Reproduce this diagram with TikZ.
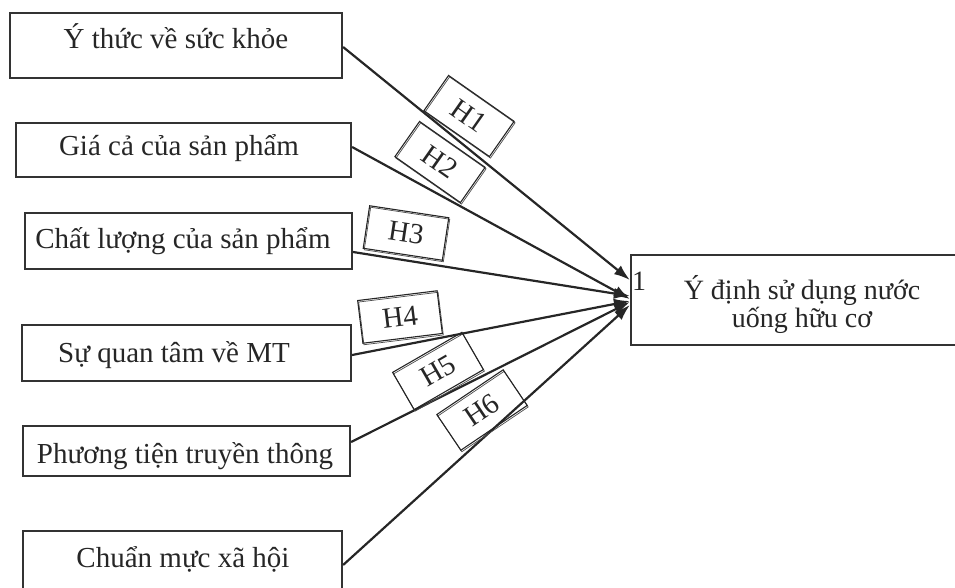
\documentclass[tikz,border=0pt]{standalone}
\usepackage{fontspec}
\setmainfont{Liberation Serif}
\usetikzlibrary{arrows.meta}
\begin{document}
\begin{tikzpicture}[x=1pt,y=-1pt,
  boxst/.style={draw=black!80, line width=2.2pt, inner sep=0pt},
  txt/.style={font=\fontsize{29}{31}\selectfont, text=black!85, inner sep=0pt, anchor=base},
  ttxt/.style={font=\fontsize{28}{30}\selectfont, text=black!85, inner sep=0pt, anchor=base},
  hlab/.style={draw=black!85, line width=1.1pt, minimum width=80pt, minimum height=43pt, inner sep=0pt,
    font=\fontsize{29}{31}\selectfont, text=black!85,
    preaction={draw=black!70, line width=0.7pt, transform canvas={xshift=1pt,yshift=-1.5pt}}},
  arr/.style={line width=2.2pt, draw=black!85, -{Latex[length=16pt,width=11pt]}}
]
\useasboundingbox (0,0) rectangle (955,587);

% left boxes
\node[boxst, minimum width=332pt, minimum height=65pt] (b1) at (176,45.5) {};
\node[boxst, minimum width=335pt, minimum height=54pt] (b2) at (183.5,150) {};
\node[boxst, minimum width=327pt, minimum height=56pt] (b3) at (188.5,241) {};
\node[boxst, minimum width=329pt, minimum height=56pt] (b4) at (186.5,353) {};
\node[boxst, minimum width=327pt, minimum height=50pt] (b5) at (186.5,451) {};
\node[boxst, minimum width=319pt, minimum height=60pt] (b6) at (182.5,561) {};

\node[txt] (t1) at (176,48) {Ý thức về sức khỏe};
\node[txt] (t2) at (179,155) {Giá cả của sản phẩm};
\node[txt] (t3) at (183,248) {Chất lượng của sản phẩm};
\node[txt] (t4) at (174,362) {Sự quan tâm về MT};
\node[txt] (t5) at (185,463) {Phương tiện truyền thông};
\node[txt] (t6) at (183,567) {Chuẩn mực xã hội};

% target box
\node[boxst, minimum width=326pt, minimum height=90pt] (tg) at (794,300) {};
\node[ttxt] (tt1) at (802,299) {Ý định sử dụng nước};
\node[ttxt] (tt2) at (802,327) {uống hữu cơ};
\node[ttxt] (one) at (639,290) {1};

% arrows
\draw[arr] ([yshift=-1.5pt]b1.east) -- ([yshift=20pt]tg.west);
\draw[arr] ([yshift=3pt]b2.east) -- ([yshift=1pt]tg.west);
\draw[arr] ([yshift=-11pt]b3.east) -- ([yshift=4pt]tg.west);
\draw[arr] ([yshift=-2pt]b4.east) -- ([yshift=-1pt]tg.west);
\draw[arr] ([yshift=9pt]b5.east) -- ([yshift=-2pt]tg.west);
\draw[arr] ([yshift=-4pt]b6.east) -- ([yshift=-5pt]tg.west);

% hypothesis labels
\node[hlab, rotate=-35] (h1) at (469,116) {H1};
\node[hlab, rotate=-35] (h2) at (440,162) {H2};
\node[hlab, rotate=-8.6] (h3) at (406,233) {H3};
\node[hlab, rotate=7] (h4) at (400,317) {H4};
\node[hlab, rotate=30] (h5) at (438,371) {H5};
\node[hlab, rotate=34] (h6) at (482,410) {H6};
\end{tikzpicture}
\end{document}
